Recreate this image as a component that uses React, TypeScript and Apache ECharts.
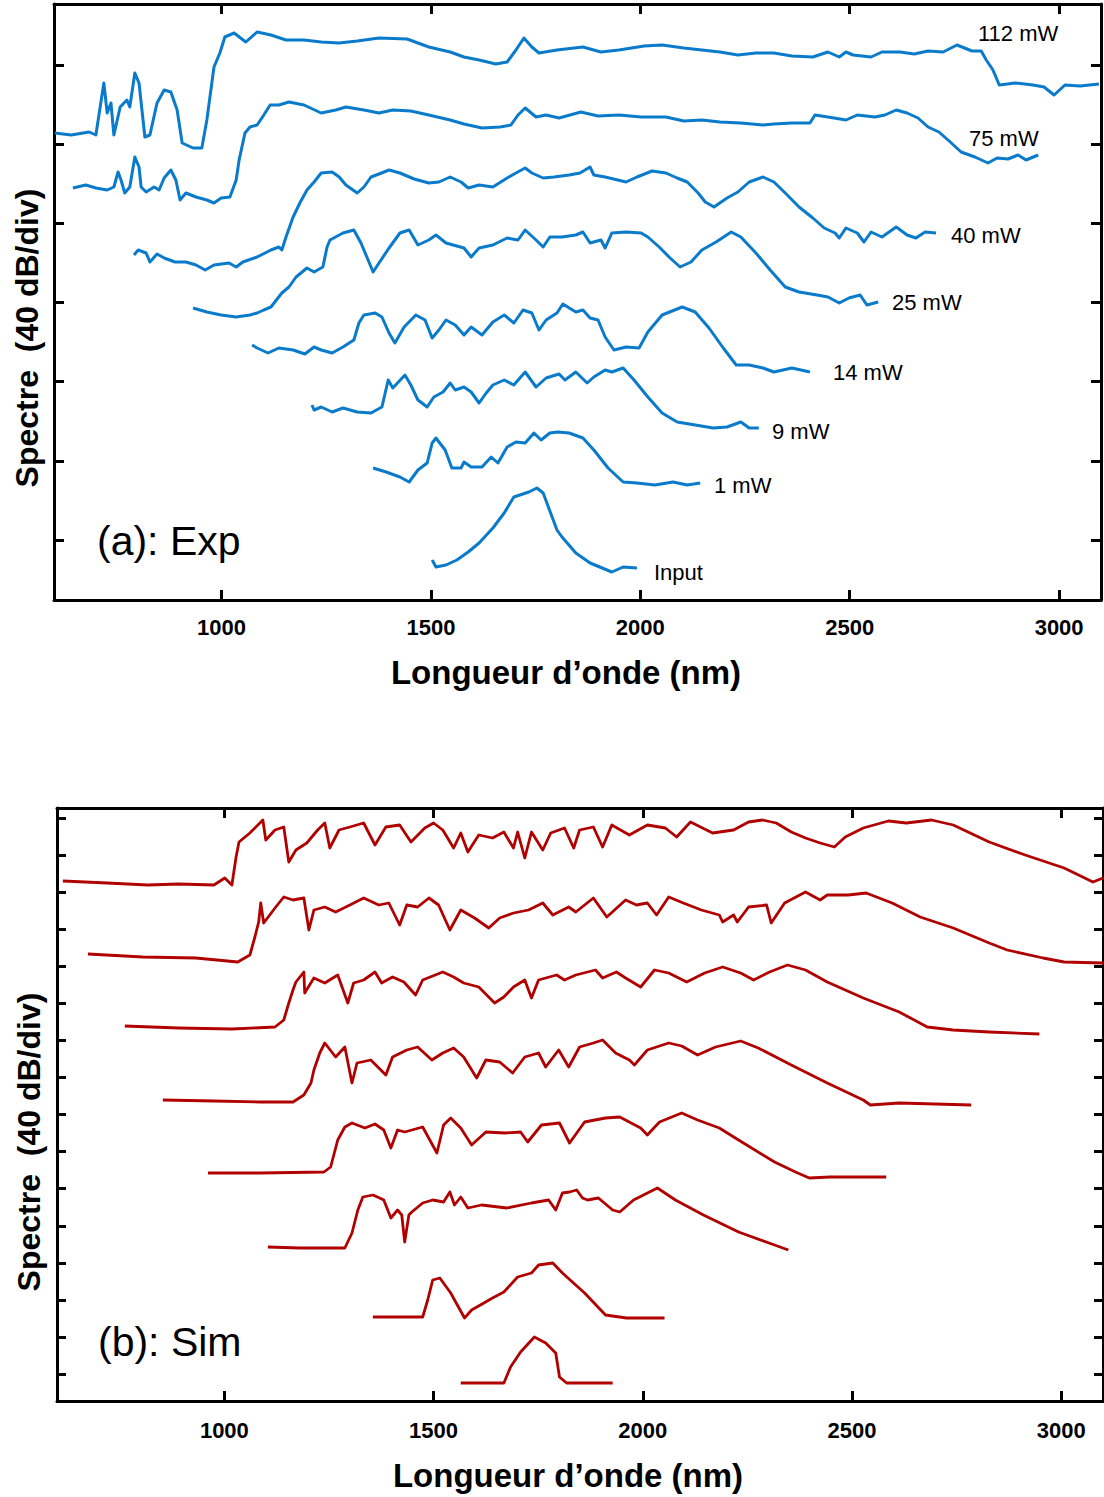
import React, { useEffect, useRef } from 'react';
import * as echarts from 'echarts';

// ---------- axis ticks ----------
const wavelengthTicks = [1000, 1500, 2000, 2500, 3000];
const expLevelTicks = [30, 69.6, 109.2, 148.8, 188.4, 228, 267.6];
const simLevelTicks = [13.5, 32, 50.5, 69.1, 87.6, 106.2, 124.7, 143.2, 161.7, 180.3, 198.8, 217.3, 235.9, 254.4, 272.9, 291.5];

// ---------- (a) experimental spectra : [wavelength nm, level dB (offset)] ----------
const exp112mW: [number, number][] = [[602,233.5],[641,232.5],[684,234],[700,232.5],[719,258.5],[727,243.5],[736,248.5],[743,232.5],[758,246.5],[774,250],[781,246.5],[793,263.5],[803,258.5],[817,231.5],[829,232.5],[846,248.5],[863,255],[879,254],[894,245],[906,228.5],[932,226],[953,226],[965,240],[982,266.5],[996,273.5],[1008,281.5],[1030,283.5],[1058,279],[1085,284],[1118,282.5],[1154,280],[1197,280],[1238,279],[1281,278.5],[1324,279.5],[1376,281],[1443,280.5],[1495,276.5],[1546,274],[1579,271.5],[1615,270],[1655,268],[1682,269],[1703,275],[1722,281],[1741,276.5],[1758,273.5],[1801,275],[1863,276.5],[1906,274],[1949,275],[2009,277],[2052,277.5],[2104,276],[2147,275],[2190,274],[2233,272.5],[2276,273.5],[2319,273.5],[2362,272],[2412,271.5],[2448,274],[2475,271.5],[2491,274],[2508,272.5],[2551,271.5],[2577,274],[2620,274],[2654,273],[2687,274.5],[2723,274],[2756,277.5],[2792,274.5],[2814,274.5],[2826,270],[2842,265],[2857,257.5],[2895,258.5],[2938,257.5],[2964,256.5],[2988,252.5],[3014,257.5],[3050,257],[3095,258]];
const exp75mW: [number, number][] = [[645,206],[676,207.5],[700,206],[727,205],[743,206.5],[753,214],[760,210],[769,203.5],[781,206.5],[793,221.5],[803,216.5],[808,206.5],[820,204],[839,206.5],[851,205],[863,211],[879,215],[891,210],[901,200],[915,203.5],[939,201.5],[965,200],[982,198.5],[999,201],[1020,201.5],[1035,210],[1042,220],[1056,233.5],[1068,236.5],[1085,237.5],[1101,242.5],[1116,247.5],[1137,247.5],[1161,249],[1197,247.5],[1238,243.5],[1273,245],[1297,246.5],[1340,245],[1376,243.5],[1409,245],[1452,244.5],[1495,242.5],[1546,240],[1579,238],[1622,236],[1665,236.5],[1691,237.5],[1708,242.5],[1725,246],[1751,241.5],[1775,242.5],[1806,241],[1858,244],[1899,242],[1949,242.5],[2002,241.5],[2061,241.5],[2104,239.5],[2147,240],[2190,239],[2240,238.5],[2293,237.5],[2319,238],[2362,238.5],[2405,238.5],[2417,242.5],[2448,241.5],[2491,240],[2518,242.5],[2560,241.5],[2584,242.5],[2611,245],[2637,243.5],[2663,241],[2687,236.5],[2713,234],[2740,229],[2766,224],[2799,221.5],[2830,218.5],[2852,221],[2878,220.5],[2902,222.5],[2921,220],[2950,222.5]];
const exp40mW: [number, number][] = [[791,172.5],[801,175],[820,173.5],[829,169],[846,173],[863,171],[889,169],[915,169],[939,167.5],[961,165],[982,167.5],[1018,168.5],[1035,166.5],[1051,169],[1085,171.5],[1118,175],[1137,176.5],[1144,175],[1154,181.5],[1171,191.5],[1187,198.5],[1204,205],[1221,209],[1238,213.5],[1264,214],[1281,211.5],[1297,207.5],[1324,203.5],[1340,206.5],[1357,211.5],[1376,213],[1400,215],[1426,213.5],[1460,210.5],[1495,208.5],[1519,209],[1546,211.5],[1572,209],[1589,206],[1615,207.5],[1648,206.5],[1682,211],[1703,213.5],[1725,216],[1741,213.5],[1768,211],[1794,211.5],[1830,212.5],[1856,213.5],[1880,216.5],[1889,212.5],[1916,211.5],[1966,209],[1992,211.5],[2028,214.5],[2061,213.5],[2088,211],[2112,209],[2138,203.5],[2155,199],[2176,196.5],[2207,201],[2233,204],[2260,209],[2293,211.5],[2319,209],[2346,203.5],[2379,196.5],[2412,191],[2439,186],[2465,183.5],[2475,181],[2491,186],[2518,183.5],[2534,179],[2551,184],[2577,181.5],[2611,186.5],[2637,182.5],[2658,181],[2680,184],[2706,183.5]];
const exp25mW: [number, number][] = [[932,146],[965,144],[999,142.5],[1035,141.5],[1068,142.5],[1085,143.5],[1101,145],[1118,146.5],[1144,153.5],[1161,156.5],[1178,161.5],[1204,166],[1221,164],[1242,166.5],[1252,176.5],[1259,180],[1290,183.5],[1316,185],[1333,178.5],[1350,170],[1362,164],[1376,168.5],[1400,176],[1426,183.5],[1448,185],[1469,177.5],[1495,180],[1512,182.5],[1536,178.5],[1579,176],[1596,171.5],[1615,176],[1648,177.5],[1682,181],[1708,180],[1725,185],[1751,180],[1768,176.5],[1784,181.5],[1813,181.5],[1846,182.5],[1863,184],[1880,178.5],[1906,180],[1916,176],[1932,183.5],[1966,184],[2002,183.5],[2018,181.5],[2045,176.5],[2071,171],[2095,166.5],[2121,169],[2147,175],[2181,179],[2217,184],[2240,181.5],[2276,173.5],[2310,165],[2346,156.5],[2379,154],[2422,152.5],[2448,151.5],[2475,148.5],[2498,151],[2525,152.5],[2541,147.5],[2568,149]];
const exp14mW: [number, number][] = [[1073,127.5],[1085,126],[1111,123.5],[1137,126],[1171,125],[1199,123],[1221,126.5],[1238,125],[1264,123.5],[1290,126.5],[1316,130],[1328,138.5],[1340,142.5],[1367,143.5],[1383,141.5],[1400,133.5],[1414,128.5],[1436,136.5],[1464,142.5],[1486,140],[1503,131],[1519,135],[1536,140],[1558,137.5],[1579,132.5],[1596,136.5],[1622,132.5],[1648,139],[1675,142.5],[1698,138.5],[1720,145],[1741,143.5],[1758,135],[1775,140],[1801,143.5],[1815,148],[1846,144],[1863,145],[1880,141],[1899,140],[1916,131.5],[1937,125],[1966,126.5],[1997,126],[2018,134],[2052,142.5],[2100,146.5],[2131,144],[2164,136],[2198,126],[2229,117.5],[2260,117.5],[2293,116],[2319,114],[2362,116],[2405,114]];
const exp9mW: [number, number][] = [[1216,97.5],[1221,95],[1238,96.5],[1264,94],[1290,96],[1324,94],[1357,93.5],[1383,96.5],[1398,110],[1409,106],[1438,112.5],[1452,107.5],[1469,100],[1491,96.5],[1507,101.5],[1529,104],[1546,108.5],[1558,105],[1579,106.5],[1596,104],[1615,98.5],[1632,103.5],[1648,107.5],[1675,110],[1698,107.5],[1725,114],[1751,106.5],[1775,111],[1806,113],[1820,110],[1846,114],[1873,108.5],[1889,111.5],[1916,115],[1932,114],[1959,116],[1985,110],[2018,101.5],[2052,93.5],[2088,89],[2131,87.5],[2174,86],[2207,86.5],[2240,89],[2260,86],[2283,86]];
const exp1mW: [number, number][] = [[1362,66],[1393,64],[1426,61.5],[1448,59],[1469,65],[1491,68.5],[1503,78.5],[1512,81],[1534,75],[1550,66],[1572,66],[1579,69],[1596,66.5],[1622,66.5],[1644,71.5],[1660,68.5],[1682,76.5],[1703,79],[1725,78.5],[1746,83.5],[1763,80],[1784,83.5],[1803,84],[1830,83.5],[1863,81],[1889,75],[1923,66],[1959,59],[1992,58.5],[2035,57.5],[2078,59],[2112,57.5],[2143,58.5]];
const expInput: [number, number][] = [[1503,20],[1512,16.5],[1536,17.5],[1562,20],[1589,24],[1615,28.5],[1648,36],[1675,43.5],[1698,51.5],[1734,54],[1753,56],[1768,53.5],[1801,35],[1813,31.5],[1846,23.5],[1880,18.5],[1932,14],[1959,16.5],[1992,16]];

// ---------- (b) simulated spectra ----------
const sim112mW: [number, number][] = [[614,260],[720,259],[817,258],[891,258.5],[975,258],[1001,261.5],[1018,258],[1028,272],[1035,279.5],[1061,284],[1092,290.5],[1099,280.5],[1121,285.5],[1142,287],[1154,269.5],[1171,275.5],[1197,279],[1223,285.5],[1240,289],[1252,276.5],[1274,285.5],[1300,287],[1333,289],[1360,278],[1386,287],[1419,288],[1446,279.5],[1479,286.5],[1500,289],[1522,285.5],[1548,276.5],[1565,284],[1582,274.5],[1608,283],[1641,281.5],[1668,284.5],[1691,276.5],[1701,284.5],[1718,271.5],[1734,284.5],[1761,275.5],[1780,284],[1813,286.5],[1835,276.5],[1849,285.5],[1882,287],[1904,277],[1926,288],[1968,283],[2011,288],[2054,286.5],[2081,282],[2114,289.5],[2167,284],[2217,285.5],[2253,289.5],[2286,290.5],[2319,289],[2355,284.5],[2389,281.5],[2424,279],[2458,277],[2484,282],[2527,286.5],[2587,290],[2630,289],[2690,290.5],[2742,288],[2828,279.5],[2914,273],[3007,266.5],[3076,259.5],[3100,261.5]];
const sim75mW: [number, number][] = [[674,223.5],[805,222],[932,221.5],[1032,219.5],[1061,223],[1073,232],[1082,239.5],[1087,249],[1094,239],[1121,246.5],[1142,252],[1164,250.5],[1190,251.5],[1202,235.5],[1214,245.5],[1240,247],[1266,244.5],[1300,248],[1333,251.5],[1369,248],[1393,249],[1419,238],[1436,248],[1462,247],[1489,251.5],[1512,248],[1539,235.5],[1565,245.5],[1598,241.5],[1632,236.5],[1658,241.5],[1691,244],[1727,245.5],[1761,249],[1785,243],[1823,247],[1840,244.5],[1882,251.5],[1914,242],[1959,250.5],[1985,248],[2011,249],[2033,243],[2062,252],[2097,249],[2140,245.5],[2183,243],[2191,239.5],[2217,243],[2226,239.5],[2253,247],[2296,248],[2307,239],[2339,249],[2389,254.5],[2424,250.5],[2441,253],[2491,253],[2534,254],[2596,249],[2663,242],[2742,236.5],[2828,229],[2871,225.5],[2957,221.5],[3007,219.5],[3100,219]];
const sim40mW: [number, number][] = [[762,187.5],[891,186.5],[1018,186],[1121,187],[1142,190.5],[1154,199],[1164,205.5],[1171,209.5],[1190,214.5],[1192,204],[1214,211.5],[1240,209],[1271,213],[1295,199],[1309,209],[1333,210.5],[1360,214.5],[1376,209],[1402,212],[1429,209.5],[1457,203],[1474,210.5],[1522,214.5],[1548,212],[1572,209],[1608,207],[1646,199],[1668,202],[1691,207],[1718,210.5],[1734,201.5],[1751,210.5],[1794,213],[1813,210.5],[1840,213],[1887,215.5],[1904,211.5],[1937,214.5],[1959,211.5],[1995,207],[2028,215.5],[2062,214],[2105,209.5],[2148,214],[2191,217],[2234,214],[2265,210.5],[2303,214.5],[2346,218],[2389,215.5],[2441,209.5],[2527,201.5],[2613,194.5],[2680,187],[2742,185.5],[2828,184.5],[2948,183.5]];
const sim25mW: [number, number][] = [[853,150.5],[975,150],[1087,149.5],[1164,149.5],[1190,153],[1207,159],[1214,165.5],[1228,174],[1240,179],[1266,172],[1288,177],[1305,159],[1317,169],[1350,170.5],[1386,163],[1402,172],[1436,175.5],[1462,177],[1496,170.5],[1522,174],[1548,176.5],[1572,172],[1603,161.5],[1625,170.5],[1658,169.5],[1689,164],[1718,172],[1751,174],[1768,167],[1799,175.5],[1823,167],[1849,177],[1882,179],[1904,180.5],[1935,174],[1968,170.5],[1980,168],[2011,175.5],[2062,179],[2093,177.5],[2131,173],[2174,177],[2234,180],[2276,176.5],[2355,168],[2441,159],[2527,150.5],[2544,148],[2613,149],[2785,148]];
const sim14mW: [number, number][] = [[961,114],[1085,114],[1238,114.5],[1254,117],[1271,130.5],[1288,137],[1305,139],[1336,136.5],[1360,138.5],[1381,135.5],[1398,126.5],[1414,135.5],[1431,134.5],[1474,137],[1508,124],[1524,138],[1541,141.5],[1565,136.5],[1591,128],[1625,134.5],[1670,134],[1708,134.5],[1725,129.5],[1758,138],[1801,139],[1825,129],[1861,139.5],[1911,141.5],[1945,142],[1995,136.5],[2011,133],[2040,139.5],[2093,144],[2131,140.5],[2183,136.5],[2229,130.5],[2315,119.5],[2365,114.5],[2398,111.5],[2448,112],[2582,112]];
const sim9mW: [number, number][] = [[1104,77],[1180,76.5],[1288,76.5],[1305,84],[1319,95.5],[1331,102],[1355,103],[1371,101.5],[1381,100.5],[1398,91.5],[1414,95.5],[1424,93],[1431,79.5],[1441,93],[1448,94.5],[1474,99],[1498,100.5],[1524,99.5],[1539,104.5],[1550,98],[1565,102],[1582,96.5],[1615,98],[1675,96.5],[1734,99],[1775,100.5],[1792,95.5],[1808,104],[1825,104.5],[1842,105.5],[1856,101.5],[1868,100.5],[1894,101.5],[1928,95.5],[1945,94.5],[1978,100.5],[2035,106.5],[2078,100.5],[2145,93],[2229,84.5],[2315,78],[2348,75.5]];
const sim1mW: [number, number][] = [[1355,42],[1474,42],[1486,50.5],[1498,60.5],[1515,61.5],[1541,54],[1574,41.5],[1591,45.5],[1641,51.5],[1668,54.5],[1701,62],[1734,64],[1751,68],[1785,69],[1808,64],[1861,54],[1911,43],[1961,41.5],[2052,41.5]];
const simInput: [number, number][] = [[1565,9],[1668,9],[1684,17],[1708,24.5],[1741,32],[1768,29],[1792,24],[1801,12],[1818,9],[1928,9]];

const expSeries = [exp112mW, exp75mW, exp40mW, exp25mW, exp14mW, exp9mW, exp1mW, expInput];
const simSeries = [sim112mW, sim75mW, sim40mW, sim25mW, sim14mW, sim9mW, sim1mW, simInput];
const powerLabels = ['112 mW', '75 mW', '40 mW', '25 mW', '14 mW', '9 mW', '1 mW', 'Input'];

// ---------- layout ----------
const BLUE = '#0a7acb';
const RED = '#b00000';
const FONT = '"Liberation Sans", Arial, Helvetica, sans-serif';
const gridA = { left: 54, top: 4, width: 1047, height: 596 };
const gridB = { left: 57, top: 808, width: 1046, height: 593 };
const labelPosA = [[978, 33], [969, 138], [951, 235], [892, 302], [833, 372], [772, 431], [714, 485], [654, 572]];

function xAxisPair(gridIndex: number, labelMargin: number) {
  const common = {
    gridIndex,
    type: 'value',
    min: 600,
    max: 3100,
    axisLine: { show: true, onZero: false, lineStyle: { color: '#000', width: 3 } },
    axisTick: { show: true, inside: true, length: 10, customValues: wavelengthTicks, lineStyle: { color: '#000', width: 3 } },
    splitLine: { show: false },
  };
  return [
    {
      ...common,
      position: 'bottom',
      axisLabel: {
        show: true,
        customValues: wavelengthTicks,
        formatter: (v: number) => String(v),
        margin: labelMargin,
        color: '#000',
        fontSize: 22,
        fontWeight: 'bold',
        fontFamily: FONT,
      },
    },
    { ...common, position: 'top', axisLabel: { show: false } },
  ];
}

function yAxisPair(gridIndex: number, max: number, ticks: number[], len: number) {
  const common = {
    gridIndex,
    type: 'value',
    min: 0,
    max,
    axisLine: { show: true, onZero: false, lineStyle: { color: '#000', width: 3 } },
    axisTick: { show: true, inside: true, length: len, customValues: ticks, lineStyle: { color: '#000', width: 3 } },
    axisLabel: { show: false },
    splitLine: { show: false },
  };
  return [
    { ...common, position: 'left' },
    { ...common, position: 'right' },
  ];
}

function text(x: number, y: number, str: string, font: string, align = 'center', rotation = 0) {
  return {
    type: 'text',
    x,
    y,
    rotation,
    silent: true,
    style: {
      text: str,
      font,
      fill: '#000',
      align,
      verticalAlign: 'middle',
      textAlign: align,
      textVerticalAlign: 'middle',
    },
  };
}

export default function App() {
  const ref = useRef<HTMLDivElement>(null);

  useEffect(() => {
    if (!ref.current) return;
    const chart = echarts.init(ref.current, null, { renderer: 'svg' });

    const series: any[] = [];
    expSeries.forEach((data, i) => {
      series.push({
        type: 'line',
        name: 'Exp ' + powerLabels[i],
        xAxisIndex: 0,
        yAxisIndex: 0,
        data,
        showSymbol: false,
        symbol: 'none',
        lineStyle: { color: BLUE, width: 3, join: 'round' },
        clip: false,
      });
    });
    simSeries.forEach((data, i) => {
      series.push({
        type: 'line',
        name: 'Sim ' + powerLabels[i],
        xAxisIndex: 2,
        yAxisIndex: 2,
        data,
        showSymbol: false,
        symbol: 'none',
        lineStyle: { color: RED, width: 2.8, join: 'round' },
        clip: false,
      });
    });

    const graphics: any[] = [
      text(27, 338, 'Spectre \u00a0(40 dB/div)', `bold 32px ${FONT}`, 'center', Math.PI / 2),
      text(566, 672, 'Longueur d\u2019onde (nm)', `bold 33px ${FONT}`),
      text(29, 1142, 'Spectre \u00a0(40 dB/div)', `bold 32px ${FONT}`, 'center', Math.PI / 2),
      text(568, 1475, 'Longueur d\u2019onde (nm)', `bold 33px ${FONT}`),
      text(97, 541, '(a): Exp', `41px ${FONT}`, 'left'),
      text(98, 1342, '(b): Sim', `41px ${FONT}`, 'left'),
    ];
    powerLabels.forEach((lab, i) => {
      graphics.push(text(labelPosA[i][0], labelPosA[i][1], lab, `22px ${FONT}`, 'left'));
    });

    chart.setOption({
      animation: false,
      backgroundColor: '#fff',
      grid: [
        { ...gridA, containLabel: false, outerBoundsMode: 'none' },
        { ...gridB, containLabel: false, outerBoundsMode: 'none' },
      ],
      xAxis: [...xAxisPair(0, 16), ...xAxisPair(1, 18)],
      yAxis: [...yAxisPair(0, 298, expLevelTicks, 10), ...yAxisPair(1, 296.5, simLevelTicks, 9)],
      series,
      graphic: graphics,
    });

    return () => chart.dispose();
  }, []);

  return (
    <div
      ref={ref}
      style={{ position: 'absolute', left: 0, top: 0, width: 1104, height: 1497, background: '#fff' }}
    />
  );
}
